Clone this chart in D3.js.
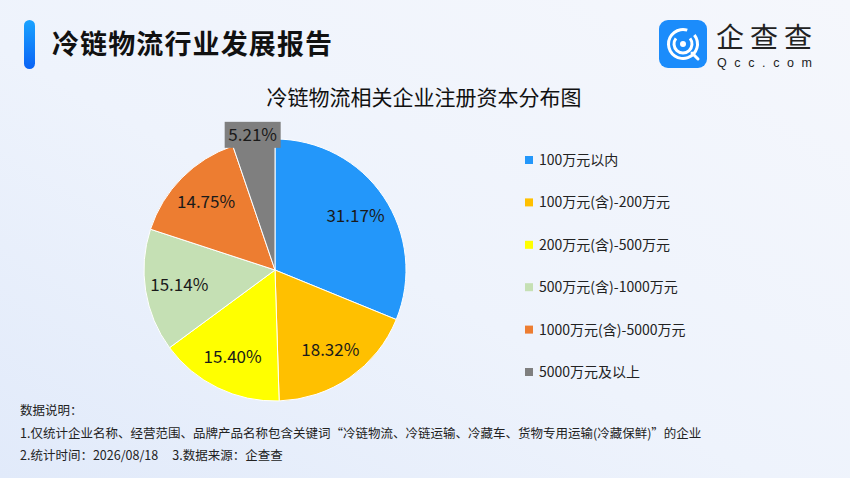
<!DOCTYPE html>
<html>
<head>
<meta charset="utf-8">
<script src="https://cdn.jsdelivr.net/npm/d3@7"></script>
<style>
  body { margin: 0; padding: 0; overflow: hidden; }
  #container { width: 850px; height: 478px; }
  text { font-family: "Noto Sans CJK SC", "Noto Sans", sans-serif; }
</style>
</head>
<body>
<div id="container"></div>
<script>
// chart data
let categories = ['100万元以内', '100万元(含)-200万元', '200万元(含)-500万元',
    '500万元(含)-1000万元', '1000万元(含)-5000万元', '5000万元及以上'];
let shares = [31.17, 18.32, 15.40, 15.14, 14.75, 5.21];
let sliceColors = ['#2397fa', '#ffc000', '#ffff00', '#c5e0b4', '#ed7d31', '#7f7f7f'];
let footnotes = [
    '数据说明：',
    '1.仅统计企业名称、经营范围、品牌产品名称包含关键词“冷链物流、冷链运输、冷藏车、货物专用运输(冷藏保鲜)”的企业',
    '2.统计时间：2026/08/18\u00a0\u00a0\u00a0\u00a0\u00a03.数据来源：企查查'
];

let width = 850, height = 478;

let viz = d3.select('#container')
    .append('svg')
    .attr('width', width)
    .attr('height', height);

let defs = viz.append('defs');

let bg = defs.append('linearGradient')
    .attr('id', 'bg')
    .attr('x1', 0).attr('y1', 1).attr('x2', 1).attr('y2', 0);
bg.append('stop').attr('offset', '0%').attr('stop-color', '#e1eafa');
bg.append('stop').attr('offset', '45%').attr('stop-color', '#eef3fc');
bg.append('stop').attr('offset', '100%').attr('stop-color', '#f5f7fc');

let bar = defs.append('linearGradient')
    .attr('id', 'bar')
    .attr('x1', 0).attr('y1', 0).attr('x2', 0).attr('y2', 1);
bar.append('stop').attr('offset', '0%').attr('stop-color', '#1aa3ff');
bar.append('stop').attr('offset', '100%').attr('stop-color', '#0a63f5');

viz.append('rect')
    .attr('width', width)
    .attr('height', height)
    .attr('fill', 'url(#bg)');

// header
viz.append('rect')
    .attr('x', 24).attr('y', 20)
    .attr('width', 11).attr('height', 49)
    .attr('rx', 5.5)
    .attr('fill', 'url(#bar)');

viz.append('text')
    .attr('x', 52).attr('y', 54)
    .attr('font-size', 27)
    .attr('font-weight', 'bold')
    .attr('fill', '#111')
    .attr('textLength', 280)
    .text('冷链物流行业发展报告');

// logo
let logo = viz.append('g').attr('transform', 'translate(659,20)');
logo.append('rect')
    .attr('width', 48).attr('height', 48)
    .attr('rx', 9)
    .attr('fill', '#1b8cfb');
let arcGen = d3.arc();
logo.append('path')
    .attr('transform', 'translate(24,24)')
    .attr('d', arcGen({ innerRadius: 13, outerRadius: 16, startAngle: 0.9, endAngle: 2 * Math.PI + 0.3 }))
    .attr('fill', 'white');
logo.append('path')
    .attr('transform', 'translate(24,24)')
    .attr('d', arcGen({ innerRadius: 7.5, outerRadius: 10.5, startAngle: 0.9, endAngle: 2 * Math.PI - 0.9 }))
    .attr('fill', 'white');
logo.append('line')
    .attr('x1', 33).attr('y1', 33)
    .attr('x2', 39).attr('y2', 39)
    .attr('stroke', 'white')
    .attr('stroke-width', 3)
    .attr('stroke-linecap', 'round');
logo.append('circle')
    .attr('cx', 24).attr('cy', 24).attr('r', 3)
    .attr('fill', 'white');

viz.append('text')
    .attr('x', 716).attr('y', 48)
    .attr('font-size', 28)
    .attr('fill', '#222')
    .attr('textLength', 96)
    .text('企查查');
viz.append('text')
    .attr('x', 717).attr('y', 67)
    .attr('font-size', 12.5)
    .attr('fill', '#222')
    .attr('textLength', 95)
    .style('font-family', '"Liberation Sans", sans-serif')
    .text('Qcc.com');

// chart title
viz.append('text')
    .attr('x', 424).attr('y', 105)
    .attr('text-anchor', 'middle')
    .attr('font-size', 21)
    .attr('fill', '#111')
    .text('冷链物流相关企业注册资本分布图');

// pie
let cx = 275, cy = 270, radius = 131;

let pie = d3.pie().sort(null).value(d => d);
let arcs = pie(shares);
let sliceArc = d3.arc().innerRadius(0).outerRadius(radius);
let labelArc = d3.arc().innerRadius(radius * 0.74).outerRadius(radius * 0.74);

let pieGroup = viz.append('g').attr('transform', 'translate(' + cx + ',' + cy + ')');

pieGroup.selectAll('.slice').data(arcs).enter()
    .append('path')
    .attr('class', 'slice')
    .attr('d', sliceArc)
    .attr('fill', (d, i) => sliceColors[i])
    .attr('stroke', 'white')
    .attr('stroke-width', 1);

function labelPos(d, i) {
    if (i == arcs.length - 1) {
        // small slice: label sits above the rim in a filled box
        let a = (d.startAngle + d.endAngle) / 2;
        return [Math.sin(a) * (radius + 6), -Math.cos(a) * (radius + 6)];
    }
    return labelArc.centroid(d);
}

let lastArc = arcs[arcs.length - 1];
let lastPos = labelPos(lastArc, arcs.length - 1);
pieGroup.append('rect')
    .attr('x', lastPos[0] - 28)
    .attr('y', lastPos[1] - 13)
    .attr('width', 56)
    .attr('height', 26)
    .attr('fill', sliceColors[arcs.length - 1]);

pieGroup.selectAll('.label').data(arcs).enter()
    .append('text')
    .attr('class', 'label')
    .attr('transform', (d, i) => 'translate(' + labelPos(d, i) + ')')
    .attr('text-anchor', 'middle')
    .attr('dy', '0.36em')
    .attr('font-size', 17)
    .attr('fill', '#1a1a1a')
    .text(d => d.data.toFixed(2) + '%');

// legend
let legendY = d3.scalePoint()
    .domain(categories)
    .range([160, 372]);

let legend = viz.selectAll('.legend').data(categories).enter()
    .append('g')
    .attr('class', 'legend')
    .attr('transform', d => 'translate(525,' + legendY(d) + ')');

legend.append('rect')
    .attr('x', 0).attr('y', -4)
    .attr('width', 8).attr('height', 8)
    .attr('fill', (d, i) => sliceColors[i]);

legend.append('text')
    .attr('x', 14)
    .attr('dy', '0.36em')
    .attr('font-size', 14)
    .attr('fill', '#222')
    .text(d => d);

// footnotes
viz.selectAll('.note').data(footnotes).enter()
    .append('text')
    .attr('class', 'note')
    .attr('x', 20)
    .attr('y', (d, i) => 415 + i * 22.5)
    .attr('font-size', 12.5)
    .attr('fill', '#222')
    .text(d => d);
</script>
</body>
</html>
